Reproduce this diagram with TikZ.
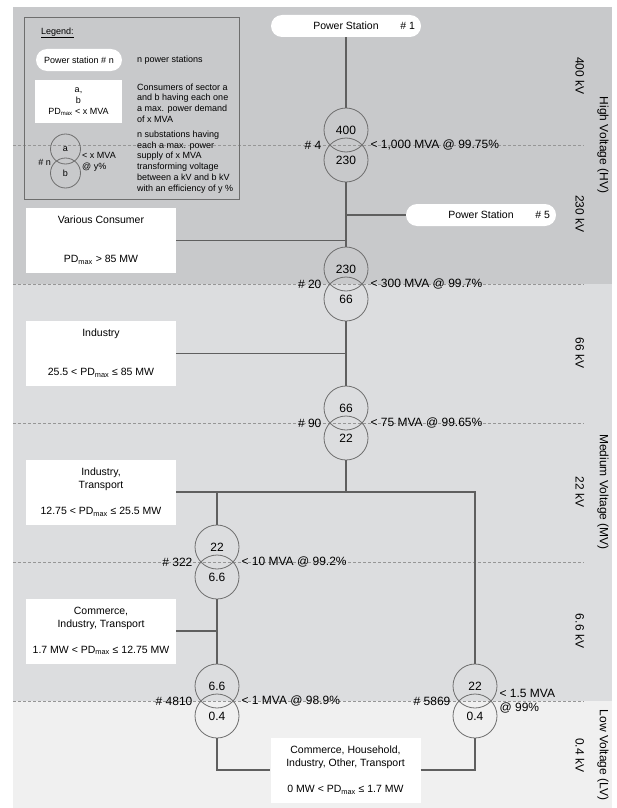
\documentclass[tikz,border=0pt]{standalone}
\usepackage{fontspec}
\setmainfont{Liberation Sans}
\usetikzlibrary{positioning,calc}

\definecolor{hvgray}{RGB}{200,201,203}
\definecolor{mvgray}{RGB}{220,221,223}
\definecolor{lvgray}{RGB}{240,240,240}
\definecolor{linegray}{RGB}{95,95,95}
\definecolor{ringgray}{RGB}{110,110,110}
\definecolor{dashgray}{RGB}{150,150,150}

\tikzset{
  consumer/.style={fill=white, minimum width=150pt, minimum height=65pt, align=center,
    inner sep=0pt, font=\fontsize{10.5}{13}\selectfont},
  station/.style={fill=white, rounded corners=11pt, minimum width=150pt, minimum height=22pt,
    inner sep=0pt, font=\fontsize{10.5}{13}\selectfont},
  trafo/.style={circle, draw=ringgray, line width=0.8pt, minimum size=44pt, inner sep=0pt,
    font=\fontsize{12}{14}\selectfont},
  tlab/.style={inner sep=2pt, align=left, font=\fontsize{12}{14}\selectfont},
  level/.style={rotate=-90, inner sep=0pt, font=\fontsize{12}{14}\selectfont},
  leg/.style={inner sep=0pt, align=left, font=\fontsize{9}{10.8}\selectfont},
  bus/.style={draw=linegray, line width=1.2pt},
  sep/.style={draw=dashgray, line width=0.6pt, dash pattern=on 3pt off 2pt},
}

\begin{document}
\begin{tikzpicture}[x=1pt,y=-1pt]
% voltage bands
\fill[white] (0,0) rectangle (617,808);
\useasboundingbox (0,0) rectangle (617,808);
\fill[hvgray] (13,7) rectangle (612,284);
\fill[mvgray] (13,284) rectangle (612,701);
\fill[lvgray] (13,701) rectangle (612,808);

\foreach \y in {145,284,423,562,701}
  \draw[sep] (13,\y) -- (584,\y);

% legend
\draw[ringgray, line width=0.8pt] (24,17) rectangle (239,199);
\node[leg, anchor=west] (legtitle) at (41,33) {\underline{Legend:}};
\node[station, minimum width=86pt, font=\fontsize{9}{10.8}\selectfont] (legps) at (79,60) {Power station \# n};
\node[leg, anchor=west] (legpstext) at (137,60) {n power stations};
\node[consumer, minimum width=87pt, minimum height=43pt, font=\fontsize{9}{11}\selectfont] (legcon) at (78.5,101.5)
  {a,\\b\\PD\textsubscript{max} < x MVA};
\node[leg, anchor=west] (legcontext) at (137,103)
  {Consumers of sector a\\and b having each one\\a max. power demand\\of x MVA};
\node[trafo, minimum size=30pt, font=\fontsize{9}{11}\selectfont] (lega) at (65.5,149) {a};
\node[trafo, minimum size=30pt, font=\fontsize{9}{11}\selectfont] (legb) at (65.5,173) {b};
\node[leg, anchor=east] (legn) at (51,162) {\# n};
\node[leg, anchor=west] (legx) at (82,162) {< x MVA\\@ y\%};
\node[leg, anchor=west] (legtrtext) at (137,162)
  {n substations having\\each a max. power\\supply of x MVA\\transforming voltage\\between a kV and b kV\\with an efficiency of y \%};

% power stations
\node[station] (ps1) at (346,26) {Power Station};
\node[inner sep=0pt, anchor=east, font=\fontsize{10.5}{13}\selectfont] (ps1n) at ([xshift=-6pt]ps1.east) {\# 1};
\node[station] (ps5) at (481,215) {Power Station};
\node[inner sep=0pt, anchor=east, font=\fontsize{10.5}{13}\selectfont] (ps5n) at ([xshift=-6pt]ps5.east) {\# 5};

% consumers
\node[consumer] (vc) at (101,240.5) {Various Consumer\\[26pt]PD\textsubscript{max} > 85 MW};
\node[consumer] (ind) at (101,353.5) {Industry\\[26pt]25.5 < PD\textsubscript{max} ≤ 85 MW};
\node[consumer] (it) at (101,492) {Industry,\\Transport\\[13pt]12.75 < PD\textsubscript{max} ≤ 25.5 MW};
\node[consumer] (cit) at (101,631) {Commerce,\\Industry, Transport\\[13pt]1.7 MW < PD\textsubscript{max} ≤ 12.75 MW};
\node[consumer] (low) at (345.5,770) {Commerce, Household,\\Industry, Other, Transport\\[13pt]0 MW < PD\textsubscript{max} ≤ 1.7 MW};

% substations
\node[trafo] (t1a) at (346,130) {400};
\node[trafo] (t1b) at (346,160) {230};
\node[tlab, anchor=east] (n1) at ($(t1a.west)!0.5!(t1b.west)$) {\# 4};
\node[tlab, anchor=west] (c1) at ($(t1a.east)!0.5!(t1b.east)$) {< 1,000 MVA @ 99.75\%};

\node[trafo] (t2a) at (346,269) {230};
\node[trafo] (t2b) at (346,299) {66};
\node[tlab, anchor=east] (n2) at ($(t2a.west)!0.5!(t2b.west)$) {\# 20};
\node[tlab, anchor=west] (c2) at ($(t2a.east)!0.5!(t2b.east)$) {< 300 MVA @ 99.7\%};

\node[trafo] (t3a) at (346,408) {66};
\node[trafo] (t3b) at (346,438) {22};
\node[tlab, anchor=east] (n3) at ($(t3a.west)!0.5!(t3b.west)$) {\# 90};
\node[tlab, anchor=west] (c3) at ($(t3a.east)!0.5!(t3b.east)$) {< 75 MVA @ 99.65\%};

\node[trafo] (t4a) at (217,547) {22};
\node[trafo] (t4b) at (217,577) {6.6};
\node[tlab, anchor=east] (n4) at ($(t4a.west)!0.5!(t4b.west)$) {\# 322};
\node[tlab, anchor=west] (c4) at ($(t4a.east)!0.5!(t4b.east)$) {< 10 MVA @ 99.2\%};

\node[trafo] (t5a) at (217,686) {6.6};
\node[trafo] (t5b) at (217,716) {0.4};
\node[tlab, anchor=east] (n5) at ($(t5a.west)!0.5!(t5b.west)$) {\# 4810};
\node[tlab, anchor=west] (c5) at ($(t5a.east)!0.5!(t5b.east)$) {< 1 MVA @ 98.9\%};

\node[trafo] (t6a) at (475,686) {22};
\node[trafo] (t6b) at (475,716) {0.4};
\node[tlab, anchor=east] (n6) at ($(t6a.west)!0.5!(t6b.west)$) {\# 5869};
\node[tlab, anchor=west] (c6) at ($(t6a.east)!0.5!(t6b.east)$) {< 1.5 MVA\\@ 99\%};

% grid
\draw[bus] (ps1.south) -- (t1a.north);
\draw[bus] (t1b.south) -- (t2a.north);
\draw[bus] (ps5.west) -- (ps5.west -| t1b.south);
\draw[bus] (vc.east) -- (vc.east -| t1b.south);
\draw[bus] (t2b.south) -- (t3a.north);
\draw[bus] (ind.east) -- (ind.east -| t2b.south);
\draw[bus] (t3b.south) -- (t3b.south |- it.east);
\draw[bus] (it.east) -- (it.east -| t6a.north) -- (t6a.north);
\draw[bus] (t4a.north) -- (t4a.north |- it.east);
\draw[bus] (t4b.south) -- (t5a.north);
\draw[bus] (cit.east) -- (cit.east -| t4b.south);
\draw[bus] (t5b.south) |- (low.west);
\draw[bus] (low.east) -| (t6b.south);

% voltage levels
\node[level] (v400) at (580,76) {400 kV};
\node[level] (v230) at (580,214) {230 kV};
\node[level] (v66) at (580,353) {66 kV};
\node[level] (v22) at (580,492) {22 kV};
\node[level] (v6) at (580,631) {6.6 kV};
\node[level] (v04) at (580,755) {0.4 kV};
\node[level] (hv) at (603,145) {High Voltage (HV)};
\node[level] (mv) at (603,492) {Medium Voltage (MV)};
\node[level] (lv) at (603,755) {Low Voltage (LV)};
\end{tikzpicture}
\end{document}
